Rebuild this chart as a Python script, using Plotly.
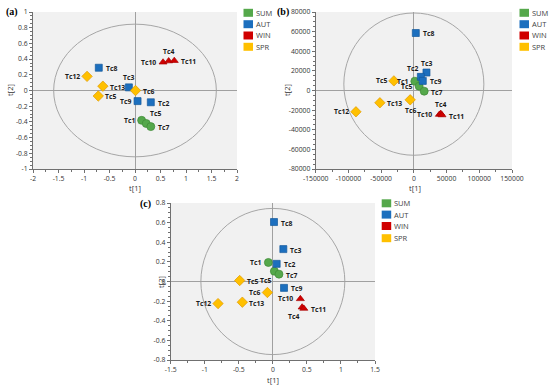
import plotly.graph_objects as go

W, H = 550, 389

SEASONS = ["SUM", "AUT", "WIN", "SPR"]
SEASON_COLORS = {"SUM": "#55a84b", "AUT": "#1c6fbe", "WIN": "#d00000", "SPR": "#ffc000"}
SEASON_LINES = {"SUM": "#3f8a37", "AUT": "#155a9c", "WIN": "#a80000", "SPR": "#e09a00"}
SEASON_SYMBOLS = {"SUM": "circle", "AUT": "square", "WIN": "triangle-up", "SPR": "diamond"}
SEASON_SIZES = {"SUM": 8, "AUT": 7, "WIN": 7, "SPR": 8}

# ---------------- Panel (a) ----------------
A_NAMES = ["Tc8", "Tc3", "Tc9", "Tc2", "Tc12", "Tc13", "Tc5", "Tc6", "Tc10", "Tc4", "Tc11", "Tc1", "Tc5", "Tc7"]
A_SEASON = ["AUT", "AUT", "AUT", "AUT", "SPR", "SPR", "SPR", "SPR", "WIN", "WIN", "WIN", "SUM", "SUM", "SUM"]
A_T1 = [-0.71, -0.12, 0.05, 0.31, -0.94, -0.63, -0.72, 0.01, 0.55, 0.66, 0.77, 0.13, 0.22, 0.31]
A_T2 = [0.29, 0.04, -0.135, -0.15, 0.18, 0.055, -0.07, 0.0, 0.36, 0.375, 0.38, -0.38, -0.42, -0.46]
A_LABEL_POS = ["r", "t", "l", "r", "l", "r", "r", "r", "l", "t", "r", "l", "tr", "r"]
A_XRANGE = [-2, 2]
A_YRANGE = [-1, 1]
A_XTICKS = [-2, -1.5, -1, -0.5, 0, 0.5, 1, 1.5, 2]
A_YTICKS = [-1, -0.8, -0.6, -0.4, -0.2, 0, 0.2, 0.4, 0.6, 0.8, 1]
A_ELLIPSE = [-1.595, 1.595, -0.845, 0.845]

# ---------------- Panel (b) ----------------
B_NAMES = ["Tc8", "Tc3", "Tc2", "Tc9", "Tc5", "Tc13", "Tc12", "Tc6", "Tc1", "Tc5", "Tc7", "Tc10", "Tc4", "Tc11"]
B_SEASON = ["AUT", "AUT", "AUT", "AUT", "SPR", "SPR", "SPR", "SPR", "SUM", "SUM", "SUM", "WIN", "WIN", "WIN"]
B_T1 = [3000, 19300, 10700, 13700, -30500, -51900, -88500, -5600, 1500, 8100, 15800, 39000, 41000, 43000]
B_T2 = [58600, 18300, 13900, 9800, 9800, -12500, -21700, -9500, 9500, 4400, -700, -24500, -23500, -25000]
B_LABEL_POS = ["r", "t", "tl", "r", "l", "r", "l", "b", "l", "l", "r", "l", "t", "r"]
B_XRANGE = [-150000, 150000]
B_YRANGE = [-80000, 80000]
B_XTICKS = [-150000, -100000, -50000, 0, 50000, 100000, 150000]
B_YTICKS = [-80000, -60000, -40000, -20000, 0, 20000, 40000, 60000, 80000]
B_ELLIPSE = [-107000, 107000, -66000, 79000]

# ---------------- Panel (c) ----------------
C_NAMES = ["Tc8", "Tc3", "Tc2", "Tc9", "Tc1", "Tc5", "Tc7", "Tc5", "Tc6", "Tc13", "Tc12", "Tc10", "Tc4", "Tc11"]
C_SEASON = ["AUT", "AUT", "AUT", "AUT", "SUM", "SUM", "SUM", "SPR", "SPR", "SPR", "SPR", "WIN", "WIN", "WIN"]
C_T1 = [0.017, 0.154, 0.056, 0.164, -0.066, 0.022, 0.09, -0.487, -0.08, -0.448, -0.805, 0.404, 0.43, 0.455]
C_T2 = [0.606, 0.33, 0.18, -0.065, 0.194, 0.105, 0.075, 0.01, -0.112, -0.211, -0.225, -0.177, -0.262, -0.275]
C_LABEL_POS = ["r", "r", "r", "r", "l", "bl", "r", "r", "l", "r", "l", "l", "bl", "r"]
C_XRANGE = [-1.5, 1.5]
C_YRANGE = [-0.8, 0.8]
C_XTICKS = [-1.5, -1, -0.5, 0, 0.5, 1, 1.5]
C_YTICKS = [-0.8, -0.6, -0.4, -0.2, 0, 0.2, 0.4, 0.6, 0.8]
C_ELLIPSE = [-1.057, 1.057, -0.745, 0.745]


def px_x(x):
    return x / W


def px_y(y):
    return 1 - y / H


FONT = "Open Sans, Noto Sans, DejaVu Sans, sans-serif"
TICK_FONT = dict(family=FONT, size=6.8, color="#333333")

# pixel geometry of the plot areas (left, right, top, bottom)
PANELS = [
    dict(key="a", names=A_NAMES, season=A_SEASON, t1=A_T1, t2=A_T2, pos=A_LABEL_POS,
         xr=A_XRANGE, yr=A_YRANGE, xt=A_XTICKS, yt=A_YTICKS, ell=A_ELLIPSE,
         box=(33, 237, 12, 169), xminor=0.25, yminor=0.05,
         legend_x=243.5, legend_y=[12.8, 24.2, 35.5, 46.8],
         title_x=(135, 188), title_y=(10, 90), tag=(12, 12)),
    dict(key="b", names=B_NAMES, season=B_SEASON, t1=B_T1, t2=B_T2, pos=B_LABEL_POS,
         xr=B_XRANGE, yr=B_YRANGE, xt=B_XTICKS, yt=B_YTICKS, ell=B_ELLIPSE,
         box=(315.7, 512, 12, 169), xminor=25000, yminor=5000,
         legend_x=519.5, legend_y=[12.8, 24.2, 35.5, 46.8],
         title_x=(415, 188), title_y=(287, 90), tag=(283, 12)),
    dict(key="c", names=C_NAMES, season=C_SEASON, t1=C_T1, t2=C_T2, pos=C_LABEL_POS,
         xr=C_XRANGE, yr=C_YRANGE, xt=C_XTICKS, yt=C_YTICKS, ell=C_ELLIPSE,
         box=(170.7, 375, 203, 360), xminor=0.25, yminor=0.05,
         legend_x=381.7, legend_y=[203.3, 214.6, 226.0, 238.2],
         title_x=(273, 380), title_y=(161, 282), tag=(145.5, 204)),
]

POS_MAP = {
    "r": dict(xanchor="left", yanchor="middle", xshift=5, yshift=-1),
    "l": dict(xanchor="right", yanchor="middle", xshift=-5, yshift=0),
    "t": dict(xanchor="center", yanchor="bottom", xshift=0, yshift=3),
    "b": dict(xanchor="center", yanchor="top", xshift=0, yshift=-4),
    "tr": dict(xanchor="left", yanchor="bottom", xshift=2, yshift=3),
    "tl": dict(xanchor="right", yanchor="bottom", xshift=-1, yshift=2),
    "bl": dict(xanchor="right", yanchor="top", xshift=-1, yshift=-3),
    "br": dict(xanchor="left", yanchor="top", xshift=2, yshift=-3),
}

fig = go.Figure()
shapes = []
annotations = []
layout_axes = {}

for i, p in enumerate(PANELS):
    n = "" if i == 0 else str(i + 1)
    xa, ya = "x" + n, "y" + n
    l, r, t, b = p["box"]

    for s in SEASONS:
        idx = [k for k, v in enumerate(p["season"]) if v == s]
        fig.add_trace(go.Scatter(
            x=[p["t1"][k] for k in idx], y=[p["t2"][k] for k in idx],
            mode="markers", xaxis=xa, yaxis=ya, showlegend=False,
            marker=dict(symbol=SEASON_SYMBOLS[s], size=SEASON_SIZES[s], color=SEASON_COLORS[s],
                        line=dict(color=SEASON_LINES[s], width=0.7)),
            hoverinfo="text", text=[p["names"][k] for k in idx]))

    for k, name in enumerate(p["names"]):
        pm = POS_MAP[p["pos"][k]]
        annotations.append(dict(
            x=p["t1"][k], y=p["t2"][k], xref=xa, yref=ya, text="<b>%s</b>" % name,
            showarrow=False, font=dict(family=FONT, size=6.8, color="#1a1a1a"), **pm))

    shapes.append(dict(type="circle", xref=xa, yref=ya,
                       x0=p["ell"][0], x1=p["ell"][1], y0=p["ell"][2], y1=p["ell"][3],
                       line=dict(color="#a6a6a6", width=1), layer="below"))

    axis_common = dict(showgrid=False, zeroline=True, zerolinecolor="#a0a0a0", zerolinewidth=1,
                       showline=True, linecolor="#707070", linewidth=1, ticks="outside",
                       ticklen=3, tickcolor="#707070", tickfont=TICK_FONT, fixedrange=True,
                       automargin=False, tickangle=0)
    layout_axes["xaxis" + n] = dict(
        domain=[px_x(l), px_x(r)], range=p["xr"], anchor=ya,
        tickvals=p["xt"], ticktext=["%g" % v for v in p["xt"]],
        minor=dict(ticks="outside", ticklen=2, tickcolor="#707070", dtick=p["xminor"], tick0=0),
        **axis_common)
    layout_axes["yaxis" + n] = dict(
        domain=[px_y(b), px_y(t)], range=p["yr"], anchor=xa,
        tickvals=p["yt"], ticktext=["%g" % v for v in p["yt"]],
        minor=dict(ticks="outside", ticklen=2, tickcolor="#707070", dtick=p["yminor"], tick0=0),
        **axis_common)

    # legend
    for j, s in enumerate(SEASONS):
        cy = p["legend_y"][j]
        lx = p["legend_x"]
        shapes.append(dict(type="rect", xref="paper", yref="paper",
                           x0=px_x(lx), x1=px_x(lx + 9.5), y0=px_y(cy + 4), y1=px_y(cy - 4),
                           fillcolor=SEASON_COLORS[s], line=dict(width=0)))
        annotations.append(dict(x=px_x(lx + 10.5), y=px_y(cy), xref="paper", yref="paper",
                                text=s, showarrow=False, xanchor="left", yanchor="middle",
                                font=dict(family=FONT, size=7.5, color="#444444")))

    # axis titles
    annotations.append(dict(x=px_x(p["title_x"][0]), y=px_y(p["title_x"][1]), xref="paper", yref="paper",
                            text="t[1]", showarrow=False, xanchor="center", yanchor="middle",
                            font=dict(family=FONT, size=7.5, color="#333333")))
    annotations.append(dict(x=px_x(p["title_y"][0]), y=px_y(p["title_y"][1]), xref="paper", yref="paper",
                            text="t[2]", showarrow=False, xanchor="center", yanchor="middle",
                            textangle=-90, font=dict(family=FONT, size=7.5, color="#333333")))
    # panel tag
    annotations.append(dict(x=px_x(p["tag"][0]), y=px_y(p["tag"][1]), xref="paper", yref="paper",
                            text="<b>(%s)</b>" % p["key"], showarrow=False, xanchor="center",
                            yanchor="middle", font=dict(family="Liberation Serif, DejaVu Serif, serif",
                                                        size=10, color="#000000")))

fig.update_layout(
    width=W, height=H, margin=dict(l=0, r=0, t=0, b=0),
    paper_bgcolor="white", plot_bgcolor="#f1f1f1",
    showlegend=False, shapes=shapes, annotations=annotations, **layout_axes)

fig.write_html("out.html", config={"displayModeBar": False},
               post_script="document.body.style.margin='0';document.body.style.overflow='hidden';")
